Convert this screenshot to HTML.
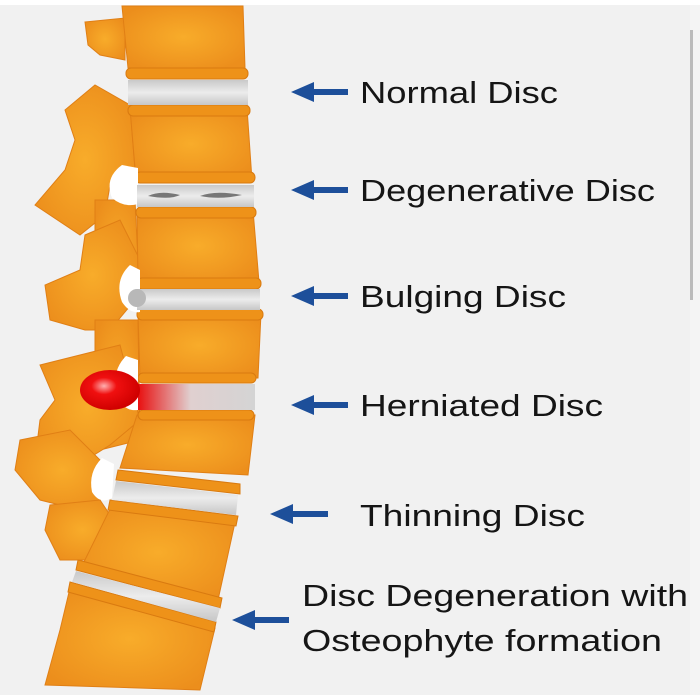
<!DOCTYPE html>
<html><head><meta charset="utf-8"><style>
html,body{margin:0;padding:0;background:#fff}
svg{display:block}
text{font-family:"Liberation Sans",sans-serif;font-size:31px;fill:#151515}
</style></head><body>
<svg width="700" height="700" viewBox="0 0 700 700" xmlns="http://www.w3.org/2000/svg">
<defs>
<radialGradient id="bone" cx="0.5" cy="0.5" r="0.6"><stop offset="0" stop-color="#f8ac2a"/><stop offset="1" stop-color="#ec8e1c"/></radialGradient>
<linearGradient id="disc" x1="0" y1="0" x2="0" y2="1"><stop offset="0" stop-color="#c9c9c9"/><stop offset="0.5" stop-color="#ececec"/><stop offset="1" stop-color="#c6c6c6"/></linearGradient>
<radialGradient id="red" cx="0.4" cy="0.4" r="0.6"><stop offset="0" stop-color="#ffb0b0"/><stop offset="0.35" stop-color="#f01010"/><stop offset="1" stop-color="#d00000"/></radialGradient>
<linearGradient id="hern" x1="0" y1="0" x2="1" y2="0"><stop offset="0" stop-color="#e81010"/><stop offset="0.45" stop-color="#e0d0d0"/><stop offset="1" stop-color="#d4d4d4"/></linearGradient>
</defs>
<rect x="0" y="5" width="690" height="690" fill="#f1f1f1"/>
<rect x="690" y="5" width="10" height="690" fill="#f4f4f4"/>
<rect x="690" y="30" width="3" height="270" fill="#bbb"/>
<g fill="url(#bone)" stroke="#e07f15" stroke-width="1">
<!-- posterior elements -->
<path d="M85 22 L125 18 L125 60 L100 55 L88 45 Z"/>
<path d="M65 110 L95 85 L130 105 L135 170 L110 185 L105 215 L80 235 L35 205 L65 170 L75 140 Z"/>
<path d="M95 200 L135 200 L140 300 L110 320 L95 290 Z"/>
<path d="M85 235 L120 220 L140 260 L135 300 L110 330 L85 330 L50 320 L45 285 L80 270 Z"/>
<path d="M95 320 L138 320 L140 440 L100 450 L95 380 Z"/>
<path d="M40 365 L80 355 L120 345 L140 420 L110 445 L70 470 L35 460 L40 420 L55 400 Z"/>
<path d="M20 440 L70 430 L100 460 L110 495 L80 510 L40 500 L15 470 Z"/>
<path d="M50 505 L100 500 L120 530 L95 560 L60 560 L45 530 Z"/>
<!-- vertebral bodies -->
<path d="M122 6 L243 6 L245 68 L128 68 Z"/>
<path d="M130 108 L247 108 L252 180 L136 180 Z"/>
<path d="M137 210 L253 210 L259 282 L138 282 Z"/>
<path d="M138 313 L261 313 L258 378 L140 378 Z"/>
<path d="M137 415 L255 415 L248 475 L120 468 Z"/>
<path d="M112 505 L236 518 L218 600 L80 570 Z"/>
<path d="M70 588 L215 628 L200 690 L45 685 L60 630 Z"/>
</g>
<g fill="#ee9219" stroke="#d97a10" stroke-width="1">
<rect x="126" y="68" width="122" height="11" rx="5"/>
<rect x="128" y="105" width="122" height="11" rx="5"/>
<rect x="135" y="172" width="120" height="11" rx="5"/>
<rect x="136" y="207" width="120" height="11" rx="5"/>
<rect x="137" y="278" width="124" height="11" rx="5"/>
<rect x="137" y="309" width="126" height="11" rx="5"/>
<rect x="138" y="373" width="118" height="10" rx="5"/>
<rect x="138" y="410" width="116" height="10" rx="5"/>
<path d="M118 470 L240 484 L240 494 L116 480 Z"/>
<path d="M110 500 L238 516 L236 526 L108 510 Z"/>
<path d="M78 560 L222 598 L220 608 L76 570 Z"/>
<path d="M70 582 L216 622 L214 632 L68 592 Z"/>
</g>
<g fill="#fff">
<path d="M122 165 Q104 178 112 198 Q124 208 138 204 L138 168 Z"/>
<path d="M130 265 Q114 280 122 302 Q130 314 140 312 L140 270 Z"/>
<path d="M126 356 Q112 370 116 392 Q122 412 138 410 L138 360 Z"/>
<path d="M102 458 Q88 472 92 492 Q100 505 112 498 L114 464 Z"/>
</g>
<rect x="128" y="80" width="120" height="25" fill="url(#disc)"/>
<rect x="137" y="185" width="117" height="22" fill="url(#disc)"/>
<path d="M148 196 Q160 190 180 195 Q170 200 148 196 Z M200 196 Q215 190 242 195 Q220 200 200 196 Z" fill="#777"/>
<rect x="137" y="289" width="123" height="21" fill="url(#disc)"/>
<circle cx="137" cy="298" r="9" fill="#b8b8b8"/>
<rect x="138" y="384" width="117" height="26" fill="url(#hern)"/>
<ellipse cx="110" cy="390" rx="30" ry="20" fill="url(#red)"/>
<path d="M116 481 L238 495 L236 515 L112 500 Z" fill="url(#disc)"/>
<path d="M76 571 L220 608 L216 622 L72 582 Z" fill="url(#disc)"/>
<g fill="#1d4f9a">
<path d="M291 92 L314 82 L314 89 L348 89 L348 95 L314 95 L314 102 Z"/>
<path d="M291 190 L314 180 L314 187 L348 187 L348 193 L314 193 L314 200 Z"/>
<path d="M291 296 L314 286 L314 293 L348 293 L348 299 L314 299 L314 306 Z"/>
<path d="M291 405 L314 395 L314 402 L348 402 L348 408 L314 408 L314 415 Z"/>
<path d="M270 514 L293 504 L293 511 L328 511 L328 517 L293 517 L293 524 Z"/>
<path d="M232 620 L255 610 L255 617 L289 617 L289 623 L255 623 L255 630 Z"/>
</g>
<text x="360" y="103" textLength="198" lengthAdjust="spacingAndGlyphs">Normal Disc</text>
<text x="360" y="201" textLength="295" lengthAdjust="spacingAndGlyphs">Degenerative Disc</text>
<text x="360" y="307" textLength="206" lengthAdjust="spacingAndGlyphs">Bulging Disc</text>
<text x="360" y="416" textLength="243" lengthAdjust="spacingAndGlyphs">Herniated Disc</text>
<text x="360" y="526" textLength="225" lengthAdjust="spacingAndGlyphs">Thinning Disc</text>
<text x="302" y="606" textLength="386" lengthAdjust="spacingAndGlyphs">Disc Degeneration with</text>
<text x="302" y="651" textLength="360" lengthAdjust="spacingAndGlyphs">Osteophyte formation</text>
</svg>
</body></html>
